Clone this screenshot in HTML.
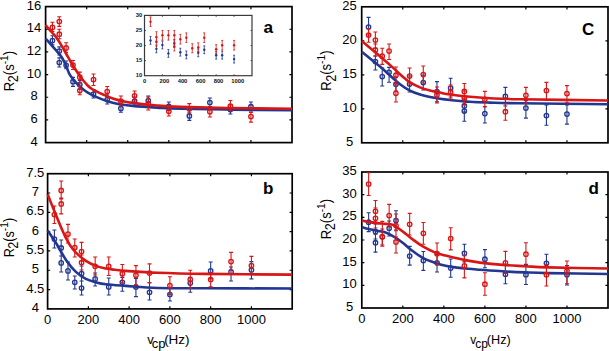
<!DOCTYPE html>
<html><head><meta charset="utf-8"><style>
html,body{margin:0;padding:0;background:#fff;width:609px;height:351px;overflow:hidden}
text{font-family:"Liberation Sans", sans-serif}
</style></head><body>
<svg width="609" height="351" viewBox="0 0 609 351" style="display:block"><g font-family='"Liberation Sans", sans-serif' fill="#000"><rect x="45.6" y="6.6" width="246.4" height="136.0" fill="none" stroke="#000" stroke-width="1.7"/><path d="M86.67 142.6v-2.6M86.67 6.6v2.6M127.73 142.6v-2.6M127.73 6.6v2.6M168.80 142.6v-2.6M168.80 6.6v2.6M209.87 142.6v-2.6M209.87 6.6v2.6M250.93 142.6v-2.6M250.93 6.6v2.6M45.6 119.93h2.6M292.0 119.93h-2.6M45.6 97.27h2.6M292.0 97.27h-2.6M45.6 74.60h2.6M292.0 74.60h-2.6M45.6 51.93h2.6M292.0 51.93h-2.6M45.6 29.27h2.6M292.0 29.27h-2.6" stroke="#000" stroke-width="1.2" fill="none"/><text x="34.0" y="145.6" font-size="13" text-anchor="middle" font-weight="normal" >4</text><text x="34.0" y="122.93333333333332" font-size="13" text-anchor="middle" font-weight="normal" >6</text><text x="34.0" y="100.26666666666665" font-size="13" text-anchor="middle" font-weight="normal" >8</text><text x="34.0" y="77.6" font-size="13" text-anchor="middle" font-weight="normal" >10</text><text x="34.0" y="54.93333333333332" font-size="13" text-anchor="middle" font-weight="normal" >12</text><text x="34.0" y="32.266666666666666" font-size="13" text-anchor="middle" font-weight="normal" >14</text><text x="34.0" y="9.599999999999994" font-size="13" text-anchor="middle" font-weight="normal" >16</text><rect x="47.6" y="173.7" width="244.6" height="135.2" fill="none" stroke="#000" stroke-width="1.7"/><path d="M88.37 308.9v-2.6M88.37 173.7v2.6M129.13 308.9v-2.6M129.13 173.7v2.6M169.90 308.9v-2.6M169.90 173.7v2.6M210.67 308.9v-2.6M210.67 173.7v2.6M251.43 308.9v-2.6M251.43 173.7v2.6M47.6 289.59h2.6M292.2 289.59h-2.6M47.6 270.27h2.6M292.2 270.27h-2.6M47.6 250.96h2.6M292.2 250.96h-2.6M47.6 231.64h2.6M292.2 231.64h-2.6M47.6 212.33h2.6M292.2 212.33h-2.6M47.6 193.01h2.6M292.2 193.01h-2.6" stroke="#000" stroke-width="1.2" fill="none"/><text x="35.3" y="311.9" font-size="13" text-anchor="middle" font-weight="normal" >4</text><text x="35.3" y="292.5857142857143" font-size="13" text-anchor="middle" font-weight="normal" >4.5</text><text x="35.3" y="273.27142857142854" font-size="13" text-anchor="middle" font-weight="normal" >5</text><text x="35.3" y="253.95714285714286" font-size="13" text-anchor="middle" font-weight="normal" >5.5</text><text x="35.3" y="234.6428571428571" font-size="13" text-anchor="middle" font-weight="normal" >6</text><text x="35.3" y="215.32857142857142" font-size="13" text-anchor="middle" font-weight="normal" >6.5</text><text x="35.3" y="196.0142857142857" font-size="13" text-anchor="middle" font-weight="normal" >7</text><text x="35.3" y="176.7" font-size="13" text-anchor="middle" font-weight="normal" >7.5</text><text x="47.6" y="323.5" font-size="13" text-anchor="middle" font-weight="normal" >0</text><text x="88.36666666666667" y="323.5" font-size="13" text-anchor="middle" font-weight="normal" >200</text><text x="129.13333333333333" y="323.5" font-size="13" text-anchor="middle" font-weight="normal" >400</text><text x="169.9" y="323.5" font-size="13" text-anchor="middle" font-weight="normal" >600</text><text x="210.66666666666666" y="323.5" font-size="13" text-anchor="middle" font-weight="normal" >800</text><text x="251.43333333333334" y="323.5" font-size="13" text-anchor="middle" font-weight="normal" >1000</text><rect x="361.7" y="6.8" width="246.3" height="136.0" fill="none" stroke="#000" stroke-width="1.7"/><path d="M402.75 142.8v-2.6M402.75 6.8v2.6M443.80 142.8v-2.6M443.80 6.8v2.6M484.85 142.8v-2.6M484.85 6.8v2.6M525.90 142.8v-2.6M525.90 6.8v2.6M566.95 142.8v-2.6M566.95 6.8v2.6M361.7 108.80h2.6M608.0 108.80h-2.6M361.7 74.80h2.6M608.0 74.80h-2.6M361.7 40.80h2.6M608.0 40.80h-2.6" stroke="#000" stroke-width="1.2" fill="none"/><text x="349.6" y="145.8" font-size="13" text-anchor="middle" font-weight="normal" >5</text><text x="349.6" y="111.80000000000001" font-size="13" text-anchor="middle" font-weight="normal" >10</text><text x="349.6" y="77.80000000000001" font-size="13" text-anchor="middle" font-weight="normal" >15</text><text x="349.6" y="43.80000000000001" font-size="13" text-anchor="middle" font-weight="normal" >20</text><text x="349.6" y="9.800000000000011" font-size="13" text-anchor="middle" font-weight="normal" >25</text><rect x="361.8" y="172.0" width="246.2" height="136.0" fill="none" stroke="#000" stroke-width="1.7"/><path d="M402.83 308.0v-2.6M402.83 172.0v2.6M443.87 308.0v-2.6M443.87 172.0v2.6M484.90 308.0v-2.6M484.90 172.0v2.6M525.93 308.0v-2.6M525.93 172.0v2.6M566.97 308.0v-2.6M566.97 172.0v2.6M361.8 285.33h2.6M608.0 285.33h-2.6M361.8 262.67h2.6M608.0 262.67h-2.6M361.8 240.00h2.6M608.0 240.00h-2.6M361.8 217.33h2.6M608.0 217.33h-2.6M361.8 194.67h2.6M608.0 194.67h-2.6" stroke="#000" stroke-width="1.2" fill="none"/><text x="349.6" y="311.0" font-size="13" text-anchor="middle" font-weight="normal" >5</text><text x="349.6" y="288.3333333333333" font-size="13" text-anchor="middle" font-weight="normal" >10</text><text x="349.6" y="265.6666666666667" font-size="13" text-anchor="middle" font-weight="normal" >15</text><text x="349.6" y="243.0" font-size="13" text-anchor="middle" font-weight="normal" >20</text><text x="349.6" y="220.33333333333331" font-size="13" text-anchor="middle" font-weight="normal" >25</text><text x="349.6" y="197.66666666666669" font-size="13" text-anchor="middle" font-weight="normal" >30</text><text x="349.6" y="175.0" font-size="13" text-anchor="middle" font-weight="normal" >35</text><text x="361.8" y="322.6" font-size="13" text-anchor="middle" font-weight="normal" >0</text><text x="402.83333333333337" y="322.6" font-size="13" text-anchor="middle" font-weight="normal" >200</text><text x="443.8666666666667" y="322.6" font-size="13" text-anchor="middle" font-weight="normal" >400</text><text x="484.9" y="322.6" font-size="13" text-anchor="middle" font-weight="normal" >600</text><text x="525.9333333333334" y="322.6" font-size="13" text-anchor="middle" font-weight="normal" >800</text><text x="566.9666666666667" y="322.6" font-size="13" text-anchor="middle" font-weight="normal" >1000</text><text transform="translate(14.0,71.0) rotate(-90) scale(0.97,1.07)" font-size="13.5" text-anchor="middle">R<tspan dx="-0.5" dy="4.0" font-size="13.0">2</tspan><tspan dy="-4.0">(s</tspan><tspan dy="-5.6" font-size="10.5">-1</tspan><tspan dy="5.6">)</tspan></text><text transform="translate(14.0,237.6) rotate(-90) scale(0.97,1.07)" font-size="13.0" text-anchor="middle">R<tspan dx="-0.5" dy="4.0" font-size="13.0">2</tspan><tspan dy="-4.0">(s</tspan><tspan dy="-5.6" font-size="10.5">-1</tspan><tspan dy="5.6">)</tspan></text><text transform="translate(331.4,70.6) rotate(-90) scale(0.97,1.07)" font-size="13.5" text-anchor="middle">R<tspan dx="-0.5" dy="4.0" font-size="13.0">2</tspan><tspan dy="-4.0">(s</tspan><tspan dy="-5.6" font-size="10.5">-1</tspan><tspan dy="5.6">)</tspan></text><text transform="translate(331.2,219.0) rotate(-90) scale(0.97,1.07)" font-size="13.5" text-anchor="middle">R<tspan dx="-0.5" dy="4.0" font-size="13.0">2</tspan><tspan dy="-4.0">(s</tspan><tspan dy="-5.6" font-size="10.5">-1</tspan><tspan dy="5.6">)</tspan></text><text x="147.2" y="343.7" font-size="13"><tspan font-size="13">v</tspan><tspan dx="-2.0" dy="4.5">cp</tspan><tspan dx="-1.3" dy="-4.5" font-size="13.5">(Hz)</tspan></text><text x="470.2" y="343.5" font-size="12"><tspan font-size="12">v</tspan><tspan dx="-1.0" dy="4.5">cp</tspan><tspan dx="-1.1" dy="-4.5" font-size="12.7">(Hz)</tspan></text><text x="268.2" y="33.3" font-size="17.2" text-anchor="middle" font-weight="bold" >a</text><text x="268.3" y="193.6" font-size="17" text-anchor="middle" font-weight="bold" >b</text><text x="588.2" y="34.8" font-size="17" text-anchor="middle" font-weight="bold" >C</text><text x="593.6" y="193.5" font-size="17" text-anchor="middle" font-weight="bold" >d</text></g><path d="M52.44 35.70V44.90M50.44 35.70h4.0M50.44 44.90h4.0M59.29 46.90V55.00M57.29 46.90h4.0M57.29 55.00h4.0M59.29 57.90V67.00M57.29 57.90h4.0M57.29 67.00h4.0M66.13 61.00V68.70M64.13 61.00h4.0M64.13 68.70h4.0M72.98 77.40V86.40M70.98 77.40h4.0M70.98 86.40h4.0M79.82 80.50V89.50M77.82 80.50h4.0M77.82 89.50h4.0M93.51 89.50V98.00M91.51 89.50h4.0M91.51 98.00h4.0M107.20 95.00V104.00M105.20 95.00h4.0M105.20 104.00h4.0M120.89 104.60V112.30M118.89 104.60h4.0M118.89 112.30h4.0M134.58 97.00V105.00M132.58 97.00h4.0M132.58 105.00h4.0M148.27 96.00V105.00M146.27 96.00h4.0M146.27 105.00h4.0M168.80 102.00V110.50M166.80 102.00h4.0M166.80 110.50h4.0M189.33 110.80V120.40M187.33 110.80h4.0M187.33 120.40h4.0M209.87 98.00V106.70M207.87 98.00h4.0M207.87 106.70h4.0M230.40 105.00V114.00M228.40 105.00h4.0M228.40 114.00h4.0M250.93 102.00V111.00M248.93 102.00h4.0M248.93 111.00h4.0" stroke="#223791" stroke-width="1.1" fill="none"/><g fill="none" stroke="#223791" stroke-width="1.35"><circle cx="52.44" cy="40.60" r="2.2"/><circle cx="59.29" cy="51.10" r="2.2"/><circle cx="59.29" cy="62.50" r="2.2"/><circle cx="66.13" cy="65.30" r="2.2"/><circle cx="72.98" cy="81.70" r="2.2"/><circle cx="79.82" cy="84.80" r="2.2"/><circle cx="93.51" cy="94.00" r="2.2"/><circle cx="107.20" cy="99.50" r="2.2"/><circle cx="120.89" cy="108.40" r="2.2"/><circle cx="134.58" cy="101.10" r="2.2"/><circle cx="148.27" cy="100.50" r="2.2"/><circle cx="168.80" cy="106.30" r="2.2"/><circle cx="189.33" cy="115.90" r="2.2"/><circle cx="209.87" cy="102.60" r="2.2"/><circle cx="230.40" cy="109.50" r="2.2"/><circle cx="250.93" cy="106.70" r="2.2"/></g><path d="M45.60 38.50C46.50 39.52 49.02 42.35 51.00 44.60C52.98 46.85 55.67 49.80 57.50 52.00C59.33 54.20 60.58 55.55 62.00 57.80C63.42 60.05 64.73 62.73 66.00 65.50C67.27 68.27 68.18 71.85 69.60 74.40C71.02 76.95 72.97 78.95 74.50 80.80C76.03 82.65 77.37 84.08 78.80 85.50C80.23 86.92 81.67 88.17 83.10 89.30C84.53 90.43 85.32 91.08 87.40 92.30C89.48 93.52 92.80 95.30 95.60 96.60C98.40 97.90 101.35 99.08 104.20 100.10C107.05 101.12 109.85 101.97 112.70 102.70C115.55 103.43 117.98 103.97 121.30 104.50C124.62 105.03 126.68 105.38 132.60 105.90C138.52 106.42 148.90 107.12 156.80 107.60C164.70 108.08 167.80 108.47 180.00 108.80C192.20 109.13 211.33 109.35 230.00 109.60C248.67 109.85 281.67 110.18 292.00 110.30" stroke="#223791" stroke-width="2.6" fill="none" stroke-linecap="butt"/><path d="M52.44 22.20V31.50M50.44 22.20h4.0M50.44 31.50h4.0M59.29 16.70V26.40M57.29 16.70h4.0M57.29 26.40h4.0M59.29 29.20V38.80M57.29 29.20h4.0M57.29 38.80h4.0M66.13 42.80V52.50M64.13 42.80h4.0M64.13 52.50h4.0M72.98 60.50V69.50M70.98 60.50h4.0M70.98 69.50h4.0M79.82 72.10V82.40M77.82 72.10h4.0M77.82 82.40h4.0M79.82 86.00V94.80M77.82 86.00h4.0M77.82 94.80h4.0M93.51 74.00V85.50M91.51 74.00h4.0M91.51 85.50h4.0M107.20 86.50V96.50M105.20 86.50h4.0M105.20 96.50h4.0M120.89 96.00V106.00M118.89 96.00h4.0M118.89 106.00h4.0M134.58 91.00V101.00M132.58 91.00h4.0M132.58 101.00h4.0M148.27 97.00V110.00M146.27 97.00h4.0M146.27 110.00h4.0M168.80 107.00V116.00M166.80 107.00h4.0M166.80 116.00h4.0M189.33 103.60V112.80M187.33 103.60h4.0M187.33 112.80h4.0M209.87 106.70V117.00M207.87 106.70h4.0M207.87 117.00h4.0M230.40 100.50V110.80M228.40 100.50h4.0M228.40 110.80h4.0M250.93 112.40V122.10M248.93 112.40h4.0M248.93 122.10h4.0" stroke="#d91616" stroke-width="1.1" fill="none"/><g fill="none" stroke="#d91616" stroke-width="1.35"><circle cx="52.44" cy="27.40" r="2.2"/><circle cx="59.29" cy="21.50" r="2.2"/><circle cx="59.29" cy="34.20" r="2.2"/><circle cx="66.13" cy="47.90" r="2.2"/><circle cx="72.98" cy="65.00" r="2.2"/><circle cx="79.82" cy="77.20" r="2.2"/><circle cx="79.82" cy="90.50" r="2.2"/><circle cx="93.51" cy="79.50" r="2.2"/><circle cx="107.20" cy="91.50" r="2.2"/><circle cx="120.89" cy="101.00" r="2.2"/><circle cx="134.58" cy="95.80" r="2.2"/><circle cx="148.27" cy="103.50" r="2.2"/><circle cx="168.80" cy="111.30" r="2.2"/><circle cx="189.33" cy="108.70" r="2.2"/><circle cx="209.87" cy="111.80" r="2.2"/><circle cx="230.40" cy="106.10" r="2.2"/><circle cx="250.93" cy="116.50" r="2.2"/></g><path d="M45.60 25.20C46.38 26.10 48.62 28.70 50.30 30.60C51.98 32.50 53.92 34.27 55.70 36.60C57.48 38.93 59.23 41.70 61.00 44.60C62.77 47.50 64.47 50.77 66.30 54.00C68.13 57.23 69.92 60.58 72.00 64.00C74.08 67.42 76.95 71.78 78.80 74.50C80.65 77.22 81.67 78.52 83.10 80.30C84.53 82.08 85.98 83.80 87.40 85.20C88.82 86.60 90.17 87.70 91.60 88.70C93.03 89.70 93.90 90.15 96.00 91.20C98.10 92.25 101.42 93.80 104.20 95.00C106.98 96.20 109.85 97.45 112.70 98.40C115.55 99.35 117.98 99.95 121.30 100.70C124.62 101.45 126.68 102.10 132.60 102.90C138.52 103.70 148.90 104.83 156.80 105.50C164.70 106.17 167.80 106.48 180.00 106.90C192.20 107.32 211.33 107.68 230.00 108.00C248.67 108.32 281.67 108.67 292.00 108.80" stroke="#d91616" stroke-width="2.6" fill="none" stroke-linecap="butt"/><path d="M54.39 230.00V248.00M52.39 230.00h4.0M52.39 248.00h4.0M61.19 240.00V256.00M59.19 240.00h4.0M59.19 256.00h4.0M61.19 256.00V272.00M59.19 256.00h4.0M59.19 272.00h4.0M67.98 262.00V280.00M65.98 262.00h4.0M65.98 280.00h4.0M74.78 276.00V289.00M72.78 276.00h4.0M72.78 289.00h4.0M81.57 266.00V281.00M79.57 266.00h4.0M79.57 281.00h4.0M81.57 281.00V295.00M79.57 281.00h4.0M79.57 295.00h4.0M95.16 273.00V286.00M93.16 273.00h4.0M93.16 286.00h4.0M108.75 278.00V295.00M106.75 278.00h4.0M106.75 295.00h4.0M122.34 277.40V291.30M120.34 277.40h4.0M120.34 291.30h4.0M135.93 278.40V296.60M133.93 278.40h4.0M133.93 296.60h4.0M149.52 282.70V300.00M147.52 282.70h4.0M147.52 300.00h4.0M169.90 288.00V301.00M167.90 288.00h4.0M167.90 301.00h4.0M190.28 277.40V292.30M188.28 277.40h4.0M188.28 292.30h4.0M210.67 262.00V278.90M208.67 262.00h4.0M208.67 278.90h4.0M231.05 267.00V281.00M229.05 267.00h4.0M229.05 281.00h4.0M251.43 261.60V278.90M249.43 261.60h4.0M249.43 278.90h4.0" stroke="#223791" stroke-width="1.1" fill="none"/><g fill="none" stroke="#223791" stroke-width="1.35"><circle cx="54.39" cy="239.00" r="2.2"/><circle cx="61.19" cy="247.90" r="2.2"/><circle cx="61.19" cy="262.90" r="2.2"/><circle cx="67.98" cy="270.90" r="2.2"/><circle cx="74.78" cy="282.30" r="2.2"/><circle cx="81.57" cy="273.50" r="2.2"/><circle cx="81.57" cy="288.00" r="2.2"/><circle cx="95.16" cy="278.90" r="2.2"/><circle cx="108.75" cy="286.90" r="2.2"/><circle cx="122.34" cy="282.30" r="2.2"/><circle cx="135.93" cy="287.00" r="2.2"/><circle cx="149.52" cy="292.30" r="2.2"/><circle cx="169.90" cy="294.50" r="2.2"/><circle cx="190.28" cy="283.10" r="2.2"/><circle cx="210.67" cy="270.90" r="2.2"/><circle cx="231.05" cy="271.90" r="2.2"/><circle cx="251.43" cy="270.00" r="2.2"/></g><path d="M47.60 230.50C49.00 232.58 52.93 238.10 56.00 243.00C59.07 247.90 62.68 255.08 66.00 259.90C69.32 264.72 72.58 268.73 75.90 271.90C79.22 275.07 82.57 277.17 85.90 278.90C89.23 280.63 92.57 281.40 95.90 282.30C99.23 283.20 100.92 283.70 105.90 284.30C110.88 284.90 117.15 285.28 125.80 285.90C134.45 286.52 144.60 287.60 157.80 288.00C171.00 288.40 182.60 288.22 205.00 288.30C227.40 288.38 277.67 288.47 292.20 288.50" stroke="#223791" stroke-width="2.6" fill="none" stroke-linecap="butt"/><path d="M54.39 206.00V223.50M52.39 206.00h4.0M52.39 223.50h4.0M61.19 181.00V199.00M59.19 181.00h4.0M59.19 199.00h4.0M61.19 198.00V213.90M59.19 198.00h4.0M59.19 213.90h4.0M67.98 224.40V243.00M65.98 224.40h4.0M65.98 243.00h4.0M74.78 239.00V257.00M72.78 239.00h4.0M72.78 257.00h4.0M81.57 242.40V261.00M79.57 242.40h4.0M79.57 261.00h4.0M81.57 255.00V270.00M79.57 255.00h4.0M79.57 270.00h4.0M95.16 257.00V275.00M93.16 257.00h4.0M93.16 275.00h4.0M108.75 257.00V275.50M106.75 257.00h4.0M106.75 275.50h4.0M122.34 264.50V282.70M120.34 264.50h4.0M120.34 282.70h4.0M135.93 265.60V284.90M133.93 265.60h4.0M133.93 284.90h4.0M149.52 263.90V282.70M147.52 263.90h4.0M147.52 282.70h4.0M169.90 276.70V294.50M167.90 276.70h4.0M167.90 294.50h4.0M190.28 270.30V288.10M188.28 270.30h4.0M188.28 288.10h4.0M210.67 273.00V286.90M208.67 273.00h4.0M208.67 286.90h4.0M231.05 252.40V270.00M229.05 252.40h4.0M229.05 270.00h4.0M251.43 256.40V273.90M249.43 256.40h4.0M249.43 273.90h4.0" stroke="#d91616" stroke-width="1.1" fill="none"/><g fill="none" stroke="#d91616" stroke-width="1.35"><circle cx="54.39" cy="214.50" r="2.2"/><circle cx="61.19" cy="190.40" r="2.2"/><circle cx="61.19" cy="203.90" r="2.2"/><circle cx="67.98" cy="234.00" r="2.2"/><circle cx="74.78" cy="247.50" r="2.2"/><circle cx="81.57" cy="251.50" r="2.2"/><circle cx="81.57" cy="262.50" r="2.2"/><circle cx="95.16" cy="266.30" r="2.2"/><circle cx="108.75" cy="266.30" r="2.2"/><circle cx="122.34" cy="273.70" r="2.2"/><circle cx="135.93" cy="275.20" r="2.2"/><circle cx="149.52" cy="273.10" r="2.2"/><circle cx="169.90" cy="285.50" r="2.2"/><circle cx="190.28" cy="279.50" r="2.2"/><circle cx="210.67" cy="279.50" r="2.2"/><circle cx="231.05" cy="261.60" r="2.2"/><circle cx="251.43" cy="265.50" r="2.2"/></g><path d="M47.60 194.30C48.47 196.45 51.07 202.92 52.80 207.20C54.53 211.48 56.47 216.28 58.00 220.00C59.53 223.72 60.67 226.47 62.00 229.50C63.33 232.53 64.67 235.58 66.00 238.20C67.33 240.82 68.35 242.80 70.00 245.20C71.65 247.60 73.25 249.98 75.90 252.60C78.55 255.22 82.57 258.68 85.90 260.90C89.23 263.12 92.57 264.63 95.90 265.90C99.23 267.17 102.72 267.85 105.90 268.50C109.08 269.15 111.68 269.40 115.00 269.80C118.32 270.20 118.67 270.40 125.80 270.90C132.93 271.40 144.60 272.30 157.80 272.80C171.00 273.30 182.60 273.60 205.00 273.90C227.40 274.20 277.67 274.48 292.20 274.60" stroke="#d91616" stroke-width="2.6" fill="none" stroke-linecap="butt"/><path d="M368.54 17.40V35.00M366.54 17.40h4.0M366.54 35.00h4.0M375.38 56.00V70.00M373.38 56.00h4.0M373.38 70.00h4.0M382.22 68.00V86.00M380.22 68.00h4.0M380.22 86.00h4.0M389.07 67.40V82.20M387.07 67.40h4.0M387.07 82.20h4.0M395.91 77.00V91.00M393.91 77.00h4.0M393.91 91.00h4.0M409.59 76.00V92.00M407.59 76.00h4.0M407.59 92.00h4.0M423.27 75.00V90.00M421.27 75.00h4.0M421.27 90.00h4.0M436.96 81.60V101.90M434.96 81.60h4.0M434.96 101.90h4.0M450.64 78.20V97.00M448.64 78.20h4.0M448.64 97.00h4.0M464.32 99.00V112.00M462.32 99.00h4.0M462.32 112.00h4.0M464.32 104.20V121.30M462.32 104.20h4.0M462.32 121.30h4.0M484.85 106.80V123.00M482.85 106.80h4.0M482.85 123.00h4.0M505.38 87.40V106.00M503.38 87.40h4.0M503.38 106.00h4.0M525.90 100.60V118.10M523.90 100.60h4.0M523.90 118.10h4.0M546.42 104.90V125.20M544.42 104.90h4.0M544.42 125.20h4.0M566.95 104.90V124.10M564.95 104.90h4.0M564.95 124.10h4.0" stroke="#223791" stroke-width="1.1" fill="none"/><g fill="none" stroke="#223791" stroke-width="1.35"><circle cx="368.54" cy="27.10" r="2.2"/><circle cx="375.38" cy="61.50" r="2.2"/><circle cx="382.22" cy="76.50" r="2.2"/><circle cx="389.07" cy="72.30" r="2.2"/><circle cx="395.91" cy="84.30" r="2.2"/><circle cx="409.59" cy="84.00" r="2.2"/><circle cx="423.27" cy="82.50" r="2.2"/><circle cx="436.96" cy="91.50" r="2.2"/><circle cx="450.64" cy="88.00" r="2.2"/><circle cx="464.32" cy="105.90" r="2.2"/><circle cx="464.32" cy="111.00" r="2.2"/><circle cx="484.85" cy="113.60" r="2.2"/><circle cx="505.38" cy="96.30" r="2.2"/><circle cx="525.90" cy="108.10" r="2.2"/><circle cx="546.42" cy="115.60" r="2.2"/><circle cx="566.95" cy="114.10" r="2.2"/></g><path d="M361.70 51.80C363.08 52.92 366.95 56.03 370.00 58.50C373.05 60.97 376.67 63.78 380.00 66.60C383.33 69.42 386.67 72.47 390.00 75.40C393.33 78.33 396.67 81.67 400.00 84.20C403.33 86.73 406.67 88.88 410.00 90.60C413.33 92.32 416.67 93.42 420.00 94.50C423.33 95.58 426.67 96.38 430.00 97.10C433.33 97.82 436.67 98.32 440.00 98.80C443.33 99.28 445.00 99.50 450.00 100.00C455.00 100.50 463.33 101.37 470.00 101.80C476.67 102.23 481.67 102.35 490.00 102.60C498.33 102.85 500.33 103.03 520.00 103.30C539.67 103.57 593.33 104.05 608.00 104.20" stroke="#223791" stroke-width="2.6" fill="none" stroke-linecap="butt"/><path d="M368.54 28.50V42.20M366.54 28.50h4.0M366.54 42.20h4.0M375.38 32.00V48.00M373.38 32.00h4.0M373.38 48.00h4.0M375.38 44.00V56.00M373.38 44.00h4.0M373.38 56.00h4.0M382.22 48.20V64.40M380.22 48.20h4.0M380.22 64.40h4.0M389.07 44.00V59.50M387.07 44.00h4.0M387.07 59.50h4.0M395.91 67.00V83.00M393.91 67.00h4.0M393.91 83.00h4.0M395.91 84.00V102.00M393.91 84.00h4.0M393.91 102.00h4.0M409.59 68.00V84.00M407.59 68.00h4.0M407.59 84.00h4.0M423.27 66.00V83.00M421.27 66.00h4.0M421.27 83.00h4.0M436.96 87.00V103.00M434.96 87.00h4.0M434.96 103.00h4.0M450.64 85.00V99.00M448.64 85.00h4.0M448.64 99.00h4.0M464.32 83.50V99.00M462.32 83.50h4.0M462.32 99.00h4.0M464.32 91.00V105.00M462.32 91.00h4.0M462.32 105.00h4.0M484.85 91.40V106.80M482.85 91.40h4.0M482.85 106.80h4.0M505.38 103.80V120.30M503.38 103.80h4.0M503.38 120.30h4.0M525.90 87.40V103.80M523.90 87.40h4.0M523.90 103.80h4.0M546.42 82.40V99.50M544.42 82.40h4.0M544.42 99.50h4.0M566.95 85.60V102.70M564.95 85.60h4.0M564.95 102.70h4.0" stroke="#d91616" stroke-width="1.1" fill="none"/><g fill="none" stroke="#d91616" stroke-width="1.35"><circle cx="368.54" cy="35.00" r="2.2"/><circle cx="375.38" cy="40.10" r="2.2"/><circle cx="375.38" cy="50.00" r="2.2"/><circle cx="382.22" cy="56.20" r="2.2"/><circle cx="389.07" cy="51.00" r="2.2"/><circle cx="395.91" cy="75.20" r="2.2"/><circle cx="395.91" cy="93.30" r="2.2"/><circle cx="409.59" cy="76.00" r="2.2"/><circle cx="423.27" cy="74.50" r="2.2"/><circle cx="436.96" cy="95.00" r="2.2"/><circle cx="450.64" cy="92.20" r="2.2"/><circle cx="464.32" cy="91.40" r="2.2"/><circle cx="464.32" cy="98.20" r="2.2"/><circle cx="484.85" cy="99.30" r="2.2"/><circle cx="505.38" cy="111.70" r="2.2"/><circle cx="525.90" cy="95.30" r="2.2"/><circle cx="546.42" cy="90.60" r="2.2"/><circle cx="566.95" cy="93.50" r="2.2"/></g><path d="M361.70 41.00C363.42 42.43 368.28 46.47 372.00 49.60C375.72 52.73 380.33 56.63 384.00 59.80C387.67 62.97 391.33 66.20 394.00 68.60C396.67 71.00 398.17 72.53 400.00 74.20C401.83 75.87 403.33 77.23 405.00 78.60C406.67 79.97 407.50 80.93 410.00 82.40C412.50 83.87 416.67 86.05 420.00 87.40C423.33 88.75 426.67 89.63 430.00 90.50C433.33 91.37 436.67 91.93 440.00 92.60C443.33 93.27 445.00 93.80 450.00 94.50C455.00 95.20 463.33 96.18 470.00 96.80C476.67 97.42 481.67 97.78 490.00 98.20C498.33 98.62 500.33 98.92 520.00 99.30C539.67 99.68 593.33 100.30 608.00 100.50" stroke="#d91616" stroke-width="2.6" fill="none" stroke-linecap="butt"/><path d="M368.64 212.70V231.60M366.64 212.70h4.0M366.64 231.60h4.0M375.48 224.00V239.00M373.48 224.00h4.0M373.48 239.00h4.0M375.48 234.20V252.10M373.48 234.20h4.0M373.48 252.10h4.0M382.32 229.00V245.00M380.32 229.00h4.0M380.32 245.00h4.0M389.16 221.00V236.00M387.16 221.00h4.0M387.16 236.00h4.0M395.99 210.70V230.00M393.99 210.70h4.0M393.99 230.00h4.0M409.67 246.40V265.10M407.67 246.40h4.0M407.67 265.10h4.0M423.35 251.50V270.40M421.35 251.50h4.0M421.35 270.40h4.0M437.03 254.40V272.00M435.03 254.40h4.0M435.03 272.00h4.0M450.71 259.00V277.20M448.71 259.00h4.0M448.71 277.20h4.0M464.38 244.20V261.90M462.38 244.20h4.0M462.38 261.90h4.0M484.90 249.60V267.80M482.90 249.60h4.0M482.90 267.80h4.0M505.42 264.40V283.80M503.42 264.40h4.0M503.42 283.80h4.0M525.93 264.40V284.50M523.93 264.40h4.0M523.93 284.50h4.0M546.45 254.20V272.80M544.45 254.20h4.0M544.45 272.80h4.0M566.97 265.60V285.00M564.97 265.60h4.0M564.97 285.00h4.0" stroke="#223791" stroke-width="1.1" fill="none"/><g fill="none" stroke="#223791" stroke-width="1.35"><circle cx="368.64" cy="222.20" r="2.2"/><circle cx="375.48" cy="231.60" r="2.2"/><circle cx="375.48" cy="242.70" r="2.2"/><circle cx="382.32" cy="236.80" r="2.2"/><circle cx="389.16" cy="228.20" r="2.2"/><circle cx="395.99" cy="220.50" r="2.2"/><circle cx="409.67" cy="256.00" r="2.2"/><circle cx="423.35" cy="260.60" r="2.2"/><circle cx="437.03" cy="262.80" r="2.2"/><circle cx="450.71" cy="268.10" r="2.2"/><circle cx="464.38" cy="253.30" r="2.2"/><circle cx="484.90" cy="259.20" r="2.2"/><circle cx="505.42" cy="274.20" r="2.2"/><circle cx="525.93" cy="274.70" r="2.2"/><circle cx="546.45" cy="263.30" r="2.2"/><circle cx="566.97" cy="274.70" r="2.2"/></g><path d="M361.80 227.00C362.92 227.33 365.95 228.37 368.50 229.00C371.05 229.63 374.25 230.22 377.10 230.80C379.95 231.38 382.75 231.50 385.60 232.50C388.45 233.50 391.35 235.10 394.20 236.80C397.05 238.50 399.85 240.50 402.70 242.70C405.55 244.90 407.95 247.48 411.30 250.00C414.65 252.52 418.98 255.73 422.80 257.80C426.62 259.87 430.40 261.07 434.20 262.40C438.00 263.73 441.80 264.93 445.60 265.80C449.40 266.67 453.22 267.10 457.00 267.60C460.78 268.10 464.47 268.45 468.30 268.80C472.13 269.15 474.25 269.28 480.00 269.70C485.75 270.12 495.20 270.85 502.80 271.30C510.40 271.75 518.02 272.10 525.60 272.40C533.18 272.70 534.57 272.83 548.30 273.10C562.03 273.37 598.05 273.85 608.00 274.00" stroke="#223791" stroke-width="2.6" fill="none" stroke-linecap="butt"/><path d="M368.64 172.70V195.50M366.64 172.70h4.0M366.64 195.50h4.0M375.48 200.50V222.00M373.48 200.50h4.0M373.48 222.00h4.0M375.48 208.00V228.00M373.48 208.00h4.0M373.48 228.00h4.0M382.32 221.40V246.20M380.32 221.40h4.0M380.32 246.20h4.0M389.16 204.40V227.00M387.16 204.40h4.0M387.16 227.00h4.0M395.99 214.00V237.00M393.99 214.00h4.0M393.99 237.00h4.0M395.99 230.80V253.00M393.99 230.80h4.0M393.99 253.00h4.0M409.67 213.40V235.00M407.67 213.40h4.0M407.67 235.00h4.0M423.35 222.50V244.20M421.35 222.50h4.0M421.35 244.20h4.0M437.03 243.00V264.70M435.03 243.00h4.0M435.03 264.70h4.0M450.71 227.80V249.90M448.71 227.80h4.0M448.71 249.90h4.0M464.38 255.60V277.90M462.38 255.60h4.0M462.38 277.90h4.0M484.90 272.80V295.20M482.90 272.80h4.0M482.90 295.20h4.0M505.42 251.40V273.50M503.42 251.40h4.0M503.42 273.50h4.0M525.93 242.80V265.60M523.93 242.80h4.0M523.93 265.60h4.0M546.45 264.40V286.00M544.45 264.40h4.0M544.45 286.00h4.0M566.97 261.00V283.80M564.97 261.00h4.0M564.97 283.80h4.0" stroke="#d91616" stroke-width="1.1" fill="none"/><g fill="none" stroke="#d91616" stroke-width="1.35"><circle cx="368.64" cy="184.10" r="2.2"/><circle cx="375.48" cy="211.30" r="2.2"/><circle cx="375.48" cy="218.30" r="2.2"/><circle cx="382.32" cy="236.80" r="2.2"/><circle cx="389.16" cy="215.50" r="2.2"/><circle cx="395.99" cy="225.60" r="2.2"/><circle cx="395.99" cy="241.90" r="2.2"/><circle cx="409.67" cy="224.30" r="2.2"/><circle cx="423.35" cy="233.30" r="2.2"/><circle cx="437.03" cy="253.70" r="2.2"/><circle cx="450.71" cy="238.50" r="2.2"/><circle cx="464.38" cy="265.80" r="2.2"/><circle cx="484.90" cy="284.20" r="2.2"/><circle cx="505.42" cy="262.80" r="2.2"/><circle cx="525.93" cy="254.20" r="2.2"/><circle cx="546.45" cy="274.70" r="2.2"/><circle cx="566.97" cy="271.00" r="2.2"/></g><path d="M361.80 220.50C362.92 220.73 365.95 221.47 368.50 221.90C371.05 222.33 374.25 222.77 377.10 223.10C379.95 223.43 383.03 223.62 385.60 223.90C388.17 224.18 390.22 223.95 392.50 224.80C394.78 225.65 397.02 227.43 399.30 229.00C401.58 230.57 403.92 232.43 406.20 234.20C408.48 235.97 410.23 237.57 413.00 239.60C415.77 241.63 419.27 244.32 422.80 246.40C426.33 248.48 430.40 250.57 434.20 252.10C438.00 253.63 441.80 254.57 445.60 255.60C449.40 256.63 453.22 257.47 457.00 258.30C460.78 259.13 464.47 259.88 468.30 260.60C472.13 261.32 474.25 261.88 480.00 262.60C485.75 263.32 495.20 264.30 502.80 264.90C510.40 265.50 518.02 265.78 525.60 266.20C533.18 266.62 534.57 267.02 548.30 267.40C562.03 267.78 598.05 268.32 608.00 268.50" stroke="#d91616" stroke-width="2.6" fill="none" stroke-linecap="butt"/><rect x="144.5" y="15.4" width="107.5" height="60.300000000000004" fill="#fff" stroke="#3a3a3a" stroke-width="1.2"/><path d="M162.42 75.7v-1.5M162.42 15.4v1.5M180.33 75.7v-1.5M180.33 15.4v1.5M198.25 75.7v-1.5M198.25 15.4v1.5M216.17 75.7v-1.5M216.17 15.4v1.5M234.08 75.7v-1.5M234.08 15.4v1.5M144.5 60.62h1.5M252.0 60.62h-1.5M144.5 45.55h1.5M252.0 45.55h-1.5M144.5 30.47h1.5M252.0 30.47h-1.5" stroke="#333" stroke-width="0.8" fill="none"/><g font-family='"Liberation Sans", sans-serif' font-size="5.8" fill="#111" text-anchor="middle" font-weight="bold"><text x="139.0" y="77.00">10</text><text x="139.0" y="61.92">15</text><text x="139.0" y="46.85">20</text><text x="139.0" y="31.77">25</text><text x="139.0" y="16.70">30</text><text x="144.6" y="82.50">0</text><text x="164.3" y="82.50">200</text><text x="182.5" y="82.50">400</text><text x="200.6" y="82.50">600</text><text x="218.5" y="82.50">800</text><text x="237.8" y="82.50">1000</text></g><path d="M150.50 36.50V44.34M149.50 36.50h2M149.50 44.34h2M156.41 44.95V52.79M155.41 44.95h2M155.41 52.79h2M162.42 41.03V48.87M161.42 41.03h2M161.42 48.87h2M168.42 49.47V57.31M167.42 49.47h2M167.42 57.31h2M174.33 39.52V47.36M173.33 39.52h2M173.33 47.36h2M180.33 48.26V56.10M179.33 48.26h2M179.33 56.10h2M186.34 50.98V58.82M185.34 50.98h2M185.34 58.82h2M198.25 48.87V56.71M197.25 48.87h2M197.25 56.71h2M204.25 45.85V53.69M203.25 45.85h2M203.25 53.69h2M216.17 51.28V59.12M215.17 51.28h2M215.17 59.12h2M222.17 51.28V59.12M221.17 51.28h2M221.17 59.12h2M234.08 55.20V63.04M233.08 55.20h2M233.08 63.04h2" stroke="#223791" stroke-width="0.8" fill="none"/><g fill="#223791"><circle cx="150.50" cy="40.42" r="1.2"/><circle cx="156.41" cy="48.87" r="1.2"/><circle cx="162.42" cy="44.95" r="1.2"/><circle cx="168.42" cy="53.39" r="1.2"/><circle cx="174.33" cy="43.44" r="1.2"/><circle cx="180.33" cy="52.18" r="1.2"/><circle cx="186.34" cy="54.90" r="1.2"/><circle cx="198.25" cy="52.79" r="1.2"/><circle cx="204.25" cy="49.77" r="1.2"/><circle cx="216.17" cy="55.20" r="1.2"/><circle cx="222.17" cy="55.20" r="1.2"/><circle cx="234.08" cy="59.12" r="1.2"/></g><path d="M150.50 16.91V26.56M149.50 16.91h2M149.50 26.56h2M156.41 31.68V42.53M155.41 31.68h2M155.41 42.53h2M156.41 37.11V46.15M155.41 37.11h2M155.41 46.15h2M162.42 30.47V40.12M161.42 30.47h2M161.42 40.12h2M168.42 30.47V40.12M167.42 30.47h2M167.42 40.12h2M174.33 30.47V40.12M173.33 30.47h2M173.33 40.12h2M174.33 41.93V50.98M173.33 41.93h2M173.33 50.98h2M180.33 34.39V44.04M179.33 34.39h2M179.33 44.04h2M186.34 32.89V42.53M185.34 32.89h2M185.34 42.53h2M192.25 43.74V52.79M191.25 43.74h2M191.25 52.79h2M198.25 42.84V51.88M197.25 42.84h2M197.25 51.88h2M204.25 32.89V42.53M203.25 32.89h2M203.25 42.53h2M216.17 44.65V53.69M215.17 44.65h2M215.17 53.69h2M222.17 40.42V50.07M221.17 40.42h2M221.17 50.07h2M234.08 40.42V50.07M233.08 40.42h2M233.08 50.07h2" stroke="#d91616" stroke-width="0.8" fill="none"/><g fill="#d91616"><circle cx="150.50" cy="21.73" r="1.2"/><circle cx="156.41" cy="37.11" r="1.2"/><circle cx="156.41" cy="41.63" r="1.2"/><circle cx="162.42" cy="35.30" r="1.2"/><circle cx="168.42" cy="35.30" r="1.2"/><circle cx="174.33" cy="35.30" r="1.2"/><circle cx="174.33" cy="46.45" r="1.2"/><circle cx="180.33" cy="39.22" r="1.2"/><circle cx="186.34" cy="37.71" r="1.2"/><circle cx="192.25" cy="48.26" r="1.2"/><circle cx="198.25" cy="47.36" r="1.2"/><circle cx="204.25" cy="37.71" r="1.2"/><circle cx="216.17" cy="49.17" r="1.2"/><circle cx="222.17" cy="45.25" r="1.2"/><circle cx="234.08" cy="45.25" r="1.2"/></g></svg>
</body></html>
